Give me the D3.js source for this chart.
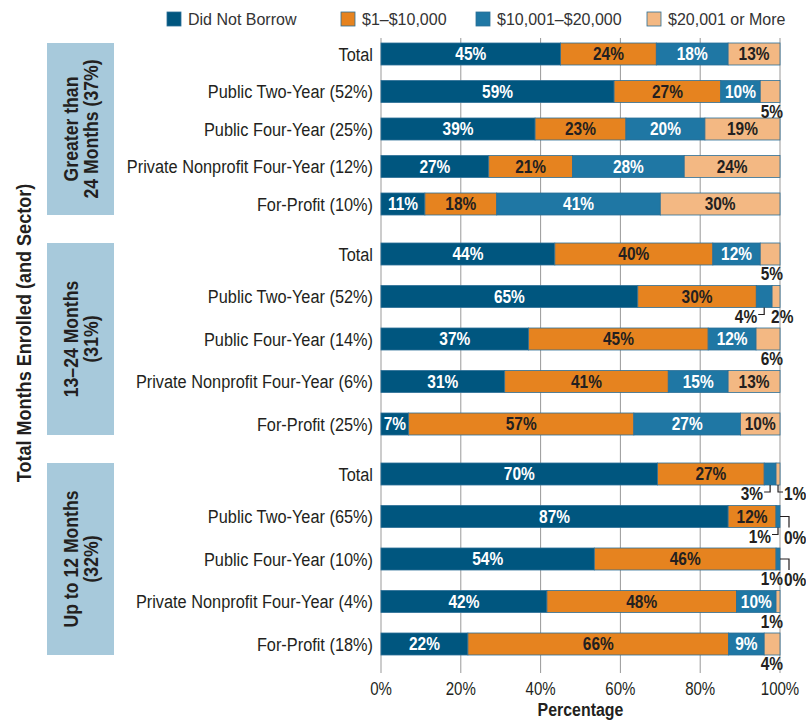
<html>
<head>
<script src="https://d3js.org/d3.v7.min.js"></script>
<style>
  body { margin: 0; background: #fff; }
  svg text { font-family: "Liberation Sans", Arial, sans-serif; fill: #231f20; }
  .rowLabel { font-size: 19px; }
  .barLabel { font-size: 18px; font-weight: bold; }
  .tick { font-size: 17.5px; }
  .legendText { font-size: 16px; fill: #333; }
  .groupLabel { font-size: 20.5px; font-weight: bold; }
  .axisTitle { font-size: 18.5px; font-weight: bold; }
</style>
</head>
<body>
<script>
// ---- data ----
const series = ["Did Not Borrow", "$1\u2013$10,000", "$10,001\u2013$20,000", "$20,001 or More"];
const colors = ["#00567f", "#e6831f", "#1f77a4", "#f3b883"];
const groupLabels = [["Greater than", "24 Months (37%)"], ["13\u201324 Months", "(31%)"], ["Up to 12 Months", "(32%)"]];
const rowLabels = [
  ["Total", "Public Two-Year (52%)", "Public Four-Year (25%)", "Private Nonprofit Four-Year (12%)", "For-Profit (10%)"],
  ["Total", "Public Two-Year (52%)", "Public Four-Year (14%)", "Private Nonprofit Four-Year (6%)", "For-Profit (25%)"],
  ["Total", "Public Two-Year (65%)", "Public Four-Year (10%)", "Private Nonprofit Four-Year (4%)", "For-Profit (18%)"]
];
const didNotBorrow = [45, 59, 39, 27, 11, 44, 65, 37, 31, 7, 70, 87, 54, 42, 22];
const upTo10k      = [24, 27, 23, 21, 18, 40, 30, 45, 41, 57, 27, 12, 46, 48, 66];
const upTo20k      = [18, 10, 20, 28, 41, 12,  4, 12, 15, 27,  3,  1,  1, 10,  9];
const over20k      = [13,  5, 19, 24, 30,  5,  2,  6, 13, 10,  1,  0,  0,  1,  4];
const xTicks = [0, 20, 40, 60, 80, 100];
// small values written under the bars: [row index, series index, placement]
const callouts = [
  [1, 3, "under"], [5, 3, "under"], [6, 2, "left"], [6, 3, "after"], [7, 3, "under"],
  [10, 2, "left"], [10, 3, "right"], [11, 2, "left"], [11, 3, "end"],
  [12, 2, "under"], [12, 3, "end"], [13, 3, "under"], [14, 3, "under"]
];

const width = 806, height = 721;
const barH = 22;
const squeeze = 0.86; // condensed look for the chart's type
const groupRanges = [[43, 215], [243, 435], [463, 655]];

const svg = d3.select("body").append("svg")
  .attr("width", width).attr("height", height);

const x = d3.scaleLinear().domain([0, 100]).range([381, 780]);

// one band scale per group
const yScales = groupRanges.map(r => {
  const step = (r[1] - r[0] - barH) / 4;
  return d3.scaleBand().domain(d3.range(5)).range(r)
    .paddingInner(1 - barH / step).paddingOuter(0);
});

// place a text at (tx,ty), optionally rotated, narrowed horizontally
function at(tx, ty, rot) {
  return `translate(${tx},${ty})${rot ? " rotate(" + rot + ")" : ""} scale(${squeeze},1)`;
}

// rows: stacked and normalised to 100
const rows = didNotBorrow.map((d, i) => {
  const vals = [d, upTo10k[i], upTo20k[i], over20k[i]];
  const sum = d3.sum(vals);
  let acc = 0;
  const segs = vals.map((v, s) => {
    const x0 = acc / sum * 100;
    acc += v;
    return { v: v, s: s, x0: x0, x1: acc / sum * 100 };
  });
  const g = Math.floor(i / 5), r = i % 5;
  return { i: i, g: g, label: rowLabels[g][r], y: yScales[g](r), segs: segs };
});

// gridlines
svg.append("g").selectAll("line").data(xTicks).join("line")
  .attr("x1", d => x(d)).attr("x2", d => x(d))
  .attr("y1", 38).attr("y2", 673)
  .attr("stroke", "#999").attr("stroke-width", 1);

// tick labels
svg.append("g").selectAll("text").data(xTicks).join("text")
  .attr("class", "tick")
  .attr("transform", d => at(x(d), 695))
  .attr("text-anchor", "middle")
  .text(d => d + "%");

svg.append("text").attr("class", "axisTitle")
  .attr("transform", at(x(50), 716)).attr("text-anchor", "middle")
  .text("Percentage");

// y title
svg.append("text").attr("class", "axisTitle")
  .attr("transform", at(31, 333, -90))
  .attr("text-anchor", "middle")
  .style("font-size", "21px")
  .text("Total Months Enrolled (and Sector)");

// group boxes
const gBox = svg.append("g").selectAll("g").data(groupRanges).join("g");
gBox.append("rect")
  .attr("x", 47).attr("width", 67)
  .attr("y", d => d[0]).attr("height", d => d[1] - d[0])
  .attr("fill", "#a7c9db");
gBox.append("text").attr("class", "groupLabel")
  .attr("transform", d => at(80.5, (d[0] + d[1]) / 2, -90))
  .attr("text-anchor", "middle")
  .selectAll("tspan").data((d, i) => groupLabels[i]).join("tspan")
  .attr("x", 0).attr("y", (d, j) => j === 0 ? -2.5 : 17.5)
  .text(d => d);

// row labels
svg.append("g").selectAll("text").data(rows).join("text")
  .attr("class", "rowLabel")
  .attr("transform", d => at(373, d.y + barH / 2))
  .attr("dy", "0.36em").attr("text-anchor", "end")
  .text(d => d.label);

// bars
const rowG = svg.append("g").selectAll("g").data(rows).join("g")
  .attr("transform", d => `translate(0,${d.y})`);

rowG.selectAll("rect").data(d => d.segs).join("rect")
  .attr("x", d => x(d.x0)).attr("width", d => x(d.x1) - x(d.x0))
  .attr("y", 0).attr("height", barH)
  .attr("fill", d => colors[d.s])
  .attr("stroke", "#2c6f97").attr("stroke-width", 0.8);

rowG.selectAll("text").data(d => d.segs.filter(s => s.v >= 7)).join("text")
  .attr("class", "barLabel")
  .attr("transform", d => at((x(d.x0) + x(d.x1)) / 2, barH / 2))
  .attr("dy", "0.36em").attr("text-anchor", "middle")
  .style("fill", d => (d.s === 0 || d.s === 2) ? "#fff" : "#231f20")
  .text(d => d.v + "%");

// callouts under bars
const cg = svg.append("g");
callouts.forEach(([ri, si, place]) => {
  const row = rows[ri], seg = row.segs[si];
  const bottom = row.y + barH;
  const cx = (x(seg.x0) + x(seg.x1)) / 2;
  const base = bottom + 15;
  const t = cg.append("text").attr("class", "barLabel").text(seg.v + "%");
  const path = d3.path();
  if (place === "under") {
    t.attr("transform", at(x(100) + 3, base)).attr("text-anchor", "end");
  } else if (place === "after") {
    t.attr("transform", at(x(seg.x0) - 1, base)).attr("text-anchor", "start");
  } else if (place === "left") {
    path.moveTo(cx, bottom); path.lineTo(cx, bottom + 7); path.lineTo(cx - 6, bottom + 7);
    t.attr("transform", at(cx - 7, base)).attr("text-anchor", "end");
  } else if (place === "right") {
    path.moveTo(cx, bottom); path.lineTo(cx, bottom + 7); path.lineTo(cx + 5, bottom + 7);
    t.attr("transform", at(cx + 6, base)).attr("text-anchor", "start");
  } else if (place === "end") {
    const mid = row.y + barH / 2;
    path.moveTo(x(100), mid); path.lineTo(x(100) + 9, mid); path.lineTo(x(100) + 9, bottom);
    t.attr("transform", at(x(100) + 4, base + 1)).attr("text-anchor", "start");
  }
  if (place !== "under" && place !== "after") {
    cg.append("path").attr("d", path.toString())
      .attr("fill", "none").attr("stroke", "#231f20").attr("stroke-width", 1.2);
  }
});

// legend
const legendX = [167, 341, 476, 647];
const lg = svg.append("g").selectAll("g").data(series).join("g")
  .attr("transform", (d, i) => `translate(${legendX[i]},12)`);
lg.append("rect").attr("width", 14).attr("height", 14)
  .attr("fill", (d, i) => colors[i]).attr("stroke", "#2c6f97").attr("stroke-width", 0.8);
lg.append("text").attr("class", "legendText")
  .attr("x", 21).attr("y", 7).attr("dy", "0.36em")
  .text(d => d);
</script>
</body>
</html>
